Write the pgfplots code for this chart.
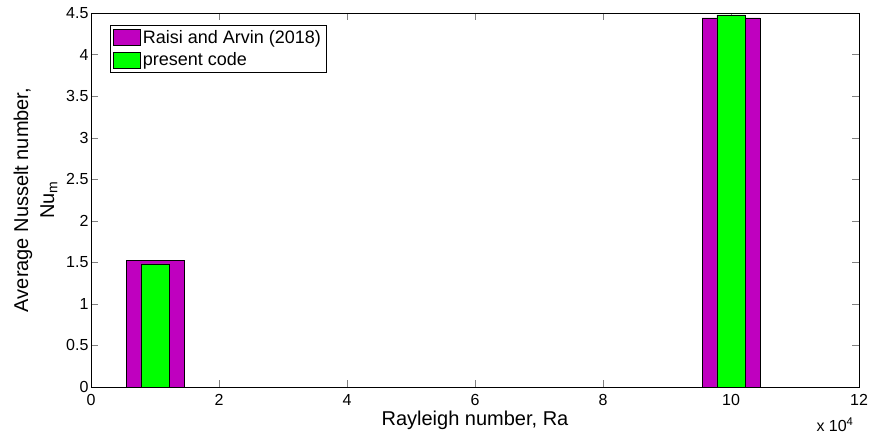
\documentclass[border=0pt]{standalone}
\usepackage{pgfplots}
\pgfplotsset{compat=1.18}
\usepackage{fontspec}
\setmainfont{Liberation Sans}
\definecolor{raisi}{RGB}{191,0,191}
\definecolor{present}{RGB}{0,255,0}

\begin{document}
\begin{tikzpicture}
\useasboundingbox (-91pt,-54pt) rectangle (779pt,387pt);
\begin{axis}[
    name=ax,
    at={(0pt,0pt)}, anchor=south west,
    scale only axis,
    width=768pt, height=374pt,
    xmin=0, xmax=12, ymin=0, ymax=4.5,
    xtick={0,2,...,12},
    ytick={0,0.5,...,4.5},
    tick align=inside, tick pos=both,
    major tick length=7pt,
    /pgf/number format/assume math mode=true,
    tick label style={font=\fontsize{16}{18}\selectfont},
    xticklabel style={yshift=-4pt},
    yticklabel style={xshift=1pt},
    xlabel={Rayleigh number, Ra},
    ylabel={Average Nusselt number,\\Nu\textsubscript{m}},
    ylabel style={align=center, font=\fontsize{20}{26}\selectfont, yshift=2pt},
    xlabel style={font=\fontsize{20}{22}\selectfont, yshift=2pt},
    axis line style={line width=0.8pt},
    legend style={at={(0.025,0.968)}, anchor=north west, draw=black,
        font=\fontsize{18}{20}\selectfont, row sep=4pt, inner sep=3pt,
        nodes={inner sep=2pt}},
    legend cell align=left,
    legend image code/.code={\draw[#1,draw=black] (-2pt,-8pt) rectangle (25pt,8pt);},
]
\addplot[ybar, bar shift=0pt, bar width=0.9, fill=raisi, draw=black] coordinates {
    (1, 1.528)
    (10, 4.44)
};
\addplot[ybar, bar shift=0pt, bar width=0.44, fill=present, draw=black] coordinates {
    (1, 1.48)
    (10, 4.478)
};
\legend{Raisi and Arvin (2018), present code}
\end{axis}
\node[anchor=north east, font=\fontsize{16}{18}\selectfont] at ([yshift=-27pt, xshift=-2pt]ax.south east) {x 10\textsuperscript{4}};
\end{tikzpicture}
\end{document}
